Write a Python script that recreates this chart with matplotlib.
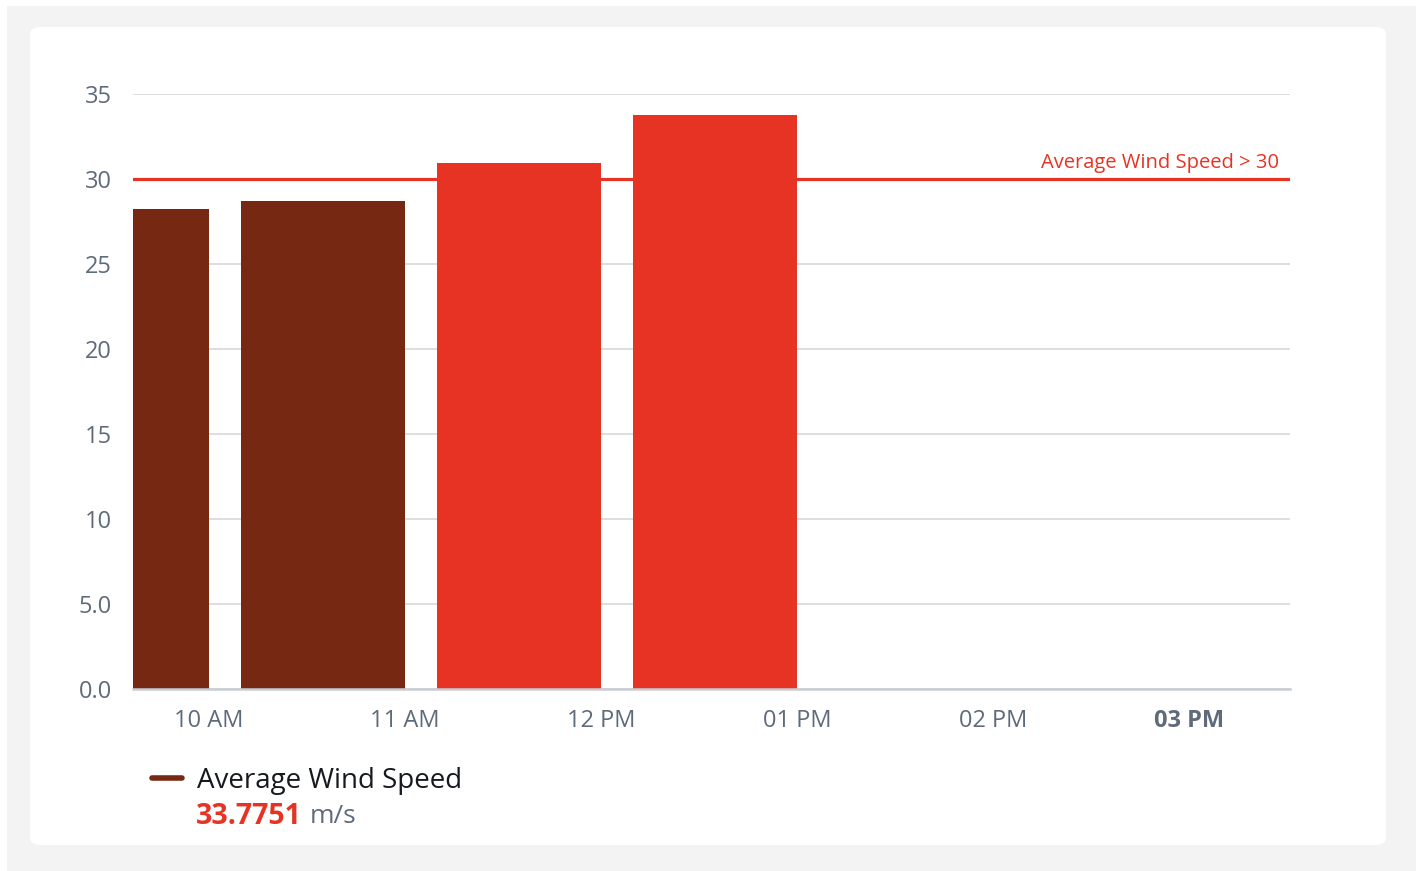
import matplotlib.pyplot as plt
from matplotlib.patches import FancyBboxPatch, Rectangle
from matplotlib.lines import Line2D

plt.rcParams['font.family'] = ['Open Sans', 'DejaVu Sans']

# 数据：每根柱子的结束时刻（相对10 AM的小时数）和平均风速
bar_end = [0, 1, 2, 3]
wind_speed = [28.24, 28.72, 30.95, 33.7751]
threshold = 30
tick_hours = [0, 1, 2, 3, 4, 5]
tick_labels = ['10 AM', '11 AM', '12 PM', '01 PM', '02 PM', '03 PM']
y_ticks = [0, 5, 10, 15, 20, 25, 30, 35]
y_labels = ['0.0', '5.0', '10', '15', '20', '25', '30', '35']
latest = wind_speed[-1]

brown = '#772812'
red = '#E63323'
W, H = 1416, 871

fig = plt.figure(figsize=(W / 100, H / 100), dpi=100)
fig.patch.set_facecolor('white')

# 背景灰框和白色卡片
fig.patches.append(Rectangle((7 / W, 0), 1, 1 - 6 / H, transform=fig.transFigure,
                             facecolor='#f3f3f3', edgecolor='none', zorder=-3))
fig.patches.append(FancyBboxPatch((30 / W, 1 - 845 / H), (1386 - 30) / W, (845 - 27) / H,
                                  boxstyle='round,pad=0,rounding_size=0.008',
                                  transform=fig.transFigure, facecolor='white',
                                  edgecolor='none', zorder=-2))

ax = fig.add_axes([133 / W, 1 - 689 / H, (1290 - 133) / W, (689 - 94) / H])
ax.set_facecolor('none')

width = 0.835
colors = [red if v > threshold else brown for v in wind_speed]
lefts = [e - width for e in bar_end]
ax.bar(lefts, wind_speed, width=width, align='edge', color=colors, zorder=2)

ax.axhline(threshold, color=red, lw=2.3, zorder=3)
ax.text(5.46, threshold + 0.35, 'Average Wind Speed > 30', color=red, fontsize=14.5,
        ha='right', va='bottom')

ax.set_xlim(-0.388, 5.515)
ax.set_ylim(0, 35)
ax.set_yticks(y_ticks)
ax.set_yticklabels(y_labels)
ax.set_xticks(tick_hours)
ax.set_xticklabels(tick_labels)
ax.get_xticklabels()[-1].set_fontweight('bold')
ax.get_xticklabels()[-1].set_color('#5f6670')

ax.tick_params(axis='both', length=0, labelsize=17, labelcolor='#5f6b7a')
ax.tick_params(axis='y', pad=15)
ax.tick_params(axis='x', pad=14.5)

ax.grid(axis='y', color='#d9dcdf', lw=1.3, zorder=0)
ax.set_axisbelow(True)
for s in ['top', 'right', 'left']:
    ax.spines[s].set_visible(False)
ax.spines['bottom'].set_color('#c9ced3')
ax.spines['bottom'].set_linewidth(1.8)
ax.spines['bottom'].set_zorder(4)

# 图例
fig.lines.append(Line2D([152 / W, 182 / W], [1 - 778 / H] * 2, transform=fig.transFigure,
                        color=brown, lw=4, solid_capstyle='round'))
fig.text(197 / W, 1 - 781 / H, 'Average Wind Speed', fontsize=20, color='#16191f',
         va='center', ha='left')
t = fig.text(196 / W, 1 - 816 / H, f'{latest:.4f}', fontsize=20.5, color=red,
             fontweight='bold', va='center', ha='left')
fig.canvas.draw()
bb = t.get_window_extent()
fig.text((bb.x1 + 8) / W, 1 - 816 / H, 'm/s', fontsize=19, color='#5f6b7a',
         va='center', ha='left')

fig.savefig('out.png', dpi=100)
